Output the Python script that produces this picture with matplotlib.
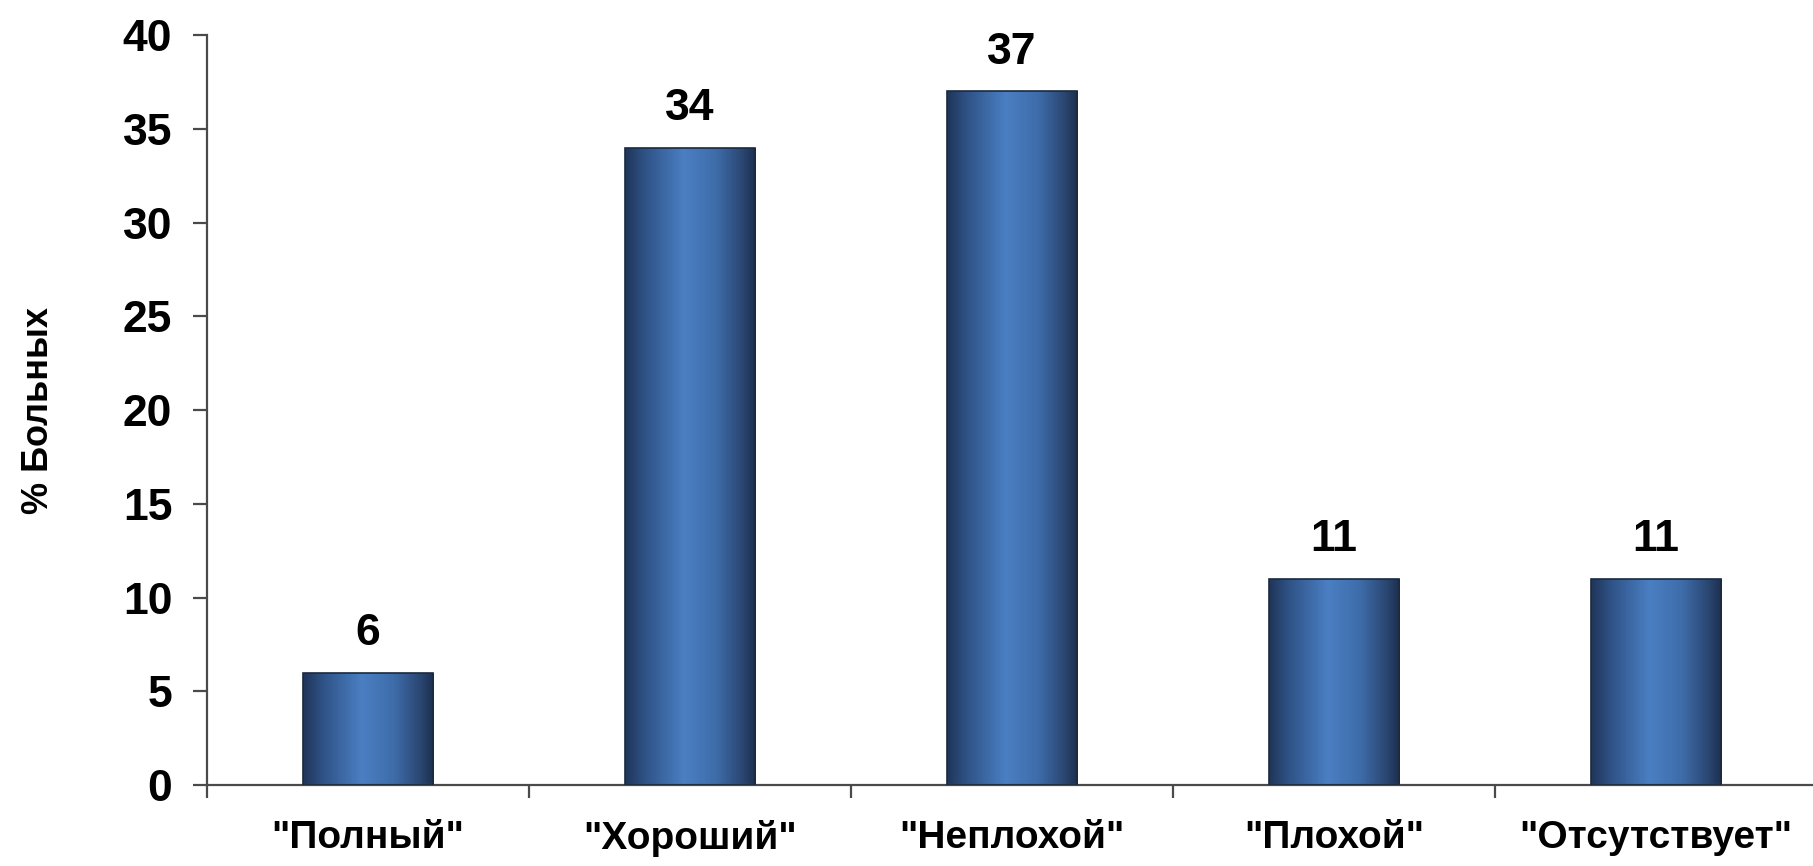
import matplotlib
matplotlib.use("Agg")
import matplotlib.pyplot as plt
import numpy as np
from matplotlib.colors import LinearSegmentedColormap

plt.rcParams['font.family'] = ['Liberation Sans', 'DejaVu Sans']
plt.rcParams['font.weight'] = 'bold'

categories = ['"Полный"', '"Хороший"', '"Неплохой"', '"Плохой"', '"Отсутствует"']
values = [6, 34, 37, 11, 11]
y_ticks = [0, 5, 10, 15, 20, 25, 30, 35, 40]

# dark edges, lighter band just left of centre
bar_cmap = LinearSegmentedColormap.from_list('bar', [
    (0.00, '#1f3558'),
    (0.15, '#2f5286'),
    (0.45, '#4a7fc3'),
    (0.70, '#3e6ca9'),
    (0.90, '#2a4671'),
    (1.00, '#1c2f4e'),
])

fig = plt.figure(figsize=(18.13, 8.66), dpi=100)
ax = fig.add_axes([0.1142, 0.0935, 0.888, 0.866])

x = np.arange(len(categories))
bars = ax.bar(x, values, width=0.404, color='none', edgecolor='#1a2a40', linewidth=1.2, zorder=3)

grad = np.linspace(0, 1, 256).reshape(1, -1)
for b in bars:
    x0, y0 = b.get_x(), b.get_y()
    w, h = b.get_width(), b.get_height()
    im = ax.imshow(grad, cmap=bar_cmap, aspect='auto', extent=[x0, x0 + w, y0, y0 + h], zorder=2)
    im.set_clip_path(b)

for xi, v in zip(x, values):
    ax.annotate(str(v), (xi, v), xytext=(0, 20), textcoords='offset points',
                ha='center', va='baseline', fontsize=32, fontweight='bold')

ax.set_xlim(-0.5, len(categories) - 0.5)
ax.set_ylim(0, 40)
ax.set_yticks(y_ticks)
ax.set_xticks(x)
ax.set_xticklabels(categories)
ax.set_xticks(np.arange(-0.5, len(categories), 1.0), minor=True)

for side in ['top', 'right']:
    ax.spines[side].set_visible(False)
for side in ['left', 'bottom']:
    ax.spines[side].set_color('#4a4a4a')
    ax.spines[side].set_linewidth(1.6)

ax.tick_params(axis='y', direction='out', length=10, width=1.6, color='#4a4a4a',
               labelsize=32, pad=15)
ax.tick_params(axis='x', which='major', length=0, labelsize=28, pad=25)
ax.tick_params(axis='x', which='minor', direction='out', length=9, width=1.6, color='#4a4a4a')
for lbl in ax.get_xticklabels() + ax.get_yticklabels():
    lbl.set_fontweight('bold')

ax.set_ylabel('% Больных', fontsize=26, fontweight='bold', labelpad=48)

fig.savefig('out.png', dpi=100)
